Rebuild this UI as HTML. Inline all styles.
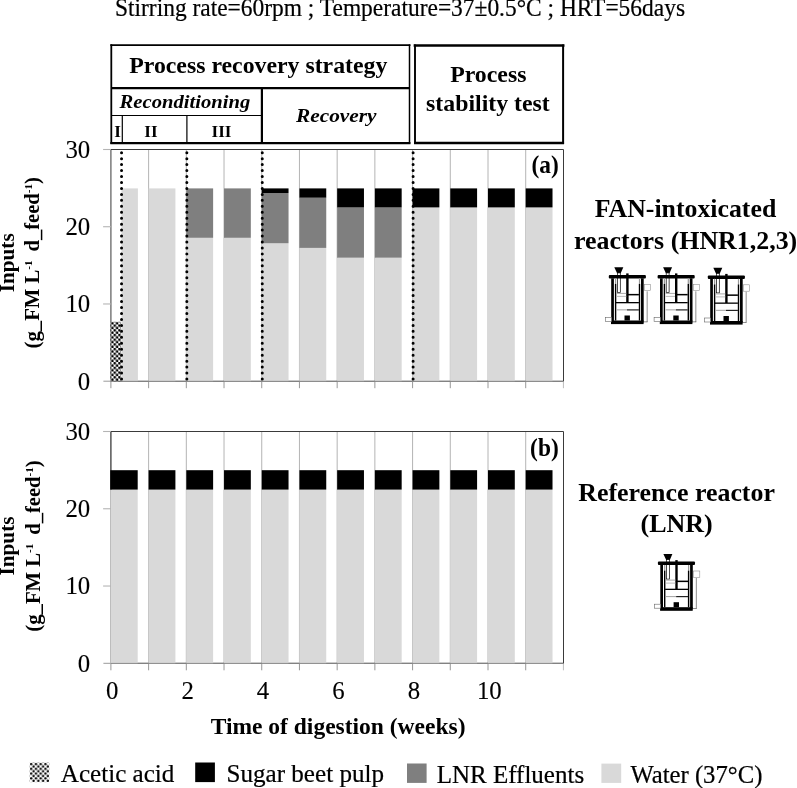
<!DOCTYPE html>
<html><head><meta charset="utf-8"><title>Figure</title>
<style>
html,body{margin:0;padding:0;background:#fff;}
body{width:797px;height:788px;overflow:hidden;}
svg{display:block;}
text{font-family:"Liberation Serif",serif;fill:#000;}
.b{font-weight:bold;}
.r{stroke:#000;stroke-width:0.22px;}
.d{stroke:#000;stroke-width:0.12px;}
.i{font-style:italic;font-weight:bold;}
</style></head><body>
<svg width="797" height="788" viewBox="0 0 797 788">
<defs>
<pattern id="chk" x="108.85" y="380.84999999999997" width="4.7" height="4.7" patternUnits="userSpaceOnUse">
<rect width="4.7" height="4.7" fill="#fff"/>
<circle cx="1.2" cy="1.2" r="1.35" fill="#000"/>
<circle cx="3.55" cy="3.55" r="1.35" fill="#000"/>
</pattern>
<pattern id="chk2" x="29.94" y="762.85" width="4.78" height="4.78" patternUnits="userSpaceOnUse">
<rect width="4.78" height="4.78" fill="#fff"/>
<circle cx="1.2" cy="1.2" r="1.2" fill="#000"/>
<circle cx="3.59" cy="3.59" r="1.2" fill="#000"/>
</pattern>
<g id="reactor">
<polygon points="9.3,0 18.3,0 15.7,5.9 12.1,5.9" fill="#000"/>
<rect x="12.4" y="5.6" width="2.9" height="19.5" fill="#fff" stroke="#000" stroke-width="0.7"/>
<rect x="3.8" y="7.6" width="37.1" height="3.5" rx="1" fill="#000"/>
<rect x="6.2" y="11" width="2.7" height="44.3" fill="#000"/>
<rect x="10" y="11" width="1.2" height="5.6" fill="#999"/>
<rect x="9.9" y="16.6" width="1.4" height="36.6" fill="#000"/>
<rect x="36.0" y="11" width="2.7" height="44.3" fill="#000"/>
<rect x="33.9" y="11" width="1.2" height="5.6" fill="#999"/>
<rect x="33.8" y="16.6" width="1.4" height="36.6" fill="#000"/>
<rect x="21.2" y="6.1" width="2.4" height="29.1" fill="#000"/>
<rect x="22.5" y="26.6" width="11.4" height="1.5" fill="#000"/>
<rect x="11" y="34.7" width="22.9" height="1.3" fill="#000"/>
<rect x="22" y="42" width="11.9" height="1.2" fill="#222"/>
<rect x="11.8" y="42" width="10.2" height="1.1" fill="#aaa"/>
<rect x="11.8" y="25.6" width="9.4" height="1" fill="#aaa"/>
<rect x="11.8" y="28.6" width="9.4" height="1" fill="#bbb"/>
<rect x="6" y="53.2" width="32.6" height="3.6" fill="#000"/>
<rect x="19.5" y="48.2" width="5.4" height="5" fill="#000"/>
<rect x="39.6" y="17" width="6.1" height="6.4" fill="#fff" stroke="#8a8a8a" stroke-width="0.55"/>
<rect x="41.8" y="24" width="0.6" height="30.8" fill="#444"/>
<rect x="38.6" y="54.3" width="3.8" height="0.6" fill="#444"/>
<rect x="0.3" y="50.2" width="6.2" height="4" fill="#fff" stroke="#666" stroke-width="0.6"/>
</g>
</defs>
<rect width="797" height="788" fill="#fff"/>

<text class="r" x="115.0" y="16.25" font-size="25.2" textLength="570" lengthAdjust="spacingAndGlyphs">Stirring rate=60rpm ; Temperature=37±0.5°C ; HRT=56days</text>
<line x1="148.61" y1="149.5" x2="148.61" y2="381.2" stroke="#b4b4b4" stroke-width="1"/>
<line x1="186.32" y1="149.5" x2="186.32" y2="381.2" stroke="#b4b4b4" stroke-width="1"/>
<line x1="224.03" y1="149.5" x2="224.03" y2="381.2" stroke="#b4b4b4" stroke-width="1"/>
<line x1="261.74" y1="149.5" x2="261.74" y2="381.2" stroke="#b4b4b4" stroke-width="1"/>
<line x1="299.45" y1="149.5" x2="299.45" y2="381.2" stroke="#b4b4b4" stroke-width="1"/>
<line x1="337.16" y1="149.5" x2="337.16" y2="381.2" stroke="#b4b4b4" stroke-width="1"/>
<line x1="374.87" y1="149.5" x2="374.87" y2="381.2" stroke="#b4b4b4" stroke-width="1"/>
<line x1="412.58" y1="149.5" x2="412.58" y2="381.2" stroke="#b4b4b4" stroke-width="1"/>
<line x1="450.29" y1="149.5" x2="450.29" y2="381.2" stroke="#b4b4b4" stroke-width="1"/>
<line x1="488.00" y1="149.5" x2="488.00" y2="381.2" stroke="#b4b4b4" stroke-width="1"/>
<line x1="525.71" y1="149.5" x2="525.71" y2="381.2" stroke="#b4b4b4" stroke-width="1"/>
<line x1="110.9" y1="381.2" x2="563.5" y2="381.2" stroke="#555" stroke-width="1.1"/>
<line x1="103.4" y1="381.2" x2="110.9" y2="381.2" stroke="#9a9a9a" stroke-width="1"/>
<line x1="110.9" y1="149.5" x2="110.9" y2="381.2" stroke="#666" stroke-width="1.3"/>
<line x1="110.9" y1="381.2" x2="110.9" y2="388.2" stroke="#8c8c8c" stroke-width="0.9"/>
<rect x="110.55" y="321.80" width="10.30" height="59.40" fill="url(#chk)"/>
<rect x="121.50" y="188.40" width="16.40" height="192.80" fill="#d9d9d9"/>
<rect x="148.61" y="188.40" width="26.80" height="192.80" fill="#d9d9d9"/>
<rect x="186.32" y="237.80" width="26.80" height="143.40" fill="#d9d9d9"/>
<rect x="186.32" y="188.40" width="26.80" height="49.40" fill="#7f7f7f"/>
<rect x="224.03" y="237.80" width="26.80" height="143.40" fill="#d9d9d9"/>
<rect x="224.03" y="188.40" width="26.80" height="49.40" fill="#7f7f7f"/>
<rect x="261.74" y="243.25" width="26.80" height="137.95" fill="#d9d9d9"/>
<rect x="261.74" y="193.05" width="26.80" height="50.20" fill="#7f7f7f"/>
<rect x="261.74" y="188.40" width="26.80" height="4.65" fill="#000"/>
<rect x="299.45" y="247.90" width="26.80" height="133.30" fill="#d9d9d9"/>
<rect x="299.45" y="197.70" width="26.80" height="50.20" fill="#7f7f7f"/>
<rect x="299.45" y="188.40" width="26.80" height="9.30" fill="#000"/>
<rect x="337.16" y="257.70" width="26.80" height="123.50" fill="#d9d9d9"/>
<rect x="337.16" y="207.45" width="26.80" height="50.25" fill="#7f7f7f"/>
<rect x="337.16" y="188.40" width="26.80" height="19.05" fill="#000"/>
<rect x="374.87" y="257.70" width="26.80" height="123.50" fill="#d9d9d9"/>
<rect x="374.87" y="207.45" width="26.80" height="50.25" fill="#7f7f7f"/>
<rect x="374.87" y="188.40" width="26.80" height="19.05" fill="#000"/>
<rect x="412.58" y="207.40" width="26.80" height="173.80" fill="#d9d9d9"/>
<rect x="412.58" y="188.40" width="26.80" height="19.00" fill="#000"/>
<rect x="450.29" y="207.40" width="26.80" height="173.80" fill="#d9d9d9"/>
<rect x="450.29" y="188.40" width="26.80" height="19.00" fill="#000"/>
<rect x="488.00" y="207.40" width="26.80" height="173.80" fill="#d9d9d9"/>
<rect x="488.00" y="188.40" width="26.80" height="19.00" fill="#000"/>
<rect x="525.71" y="207.40" width="26.80" height="173.80" fill="#d9d9d9"/>
<rect x="525.71" y="188.40" width="26.80" height="19.00" fill="#000"/>
<line x1="110.9" y1="381.2" x2="563.5" y2="381.2" stroke="#888" stroke-width="1" opacity="0.5"/>
<path d="M110.30000000000001 149.5 H563.5 V381.7" fill="none" stroke="#3a3a3a" stroke-width="1"/>
<line x1="103.10000000000001" y1="303.97" x2="110.9" y2="303.97" stroke="#b4b4b4" stroke-width="1.1"/>
<line x1="103.10000000000001" y1="226.73" x2="110.9" y2="226.73" stroke="#b4b4b4" stroke-width="1.1"/>
<line x1="103.10000000000001" y1="149.50" x2="110.9" y2="149.50" stroke="#b4b4b4" stroke-width="1.1"/>
<text class="d" x="90.2" y="389.60" font-size="24.8" text-anchor="end">0</text>
<text class="d" x="90.2" y="312.37" font-size="24.8" text-anchor="end">10</text>
<text class="d" x="90.2" y="235.13" font-size="24.8" text-anchor="end">20</text>
<text class="d" x="90.2" y="157.90" font-size="24.8" text-anchor="end">30</text>
<line x1="148.61" y1="381.2" x2="148.61" y2="388.2" stroke="#8c8c8c" stroke-width="0.9"/>
<line x1="186.32" y1="381.2" x2="186.32" y2="388.2" stroke="#8c8c8c" stroke-width="0.9"/>
<line x1="224.03" y1="381.2" x2="224.03" y2="388.2" stroke="#8c8c8c" stroke-width="0.9"/>
<line x1="261.74" y1="381.2" x2="261.74" y2="388.2" stroke="#8c8c8c" stroke-width="0.9"/>
<line x1="299.45" y1="381.2" x2="299.45" y2="388.2" stroke="#8c8c8c" stroke-width="0.9"/>
<line x1="337.16" y1="381.2" x2="337.16" y2="388.2" stroke="#8c8c8c" stroke-width="0.9"/>
<line x1="374.87" y1="381.2" x2="374.87" y2="388.2" stroke="#8c8c8c" stroke-width="0.9"/>
<line x1="412.58" y1="381.2" x2="412.58" y2="388.2" stroke="#8c8c8c" stroke-width="0.9"/>
<line x1="450.29" y1="381.2" x2="450.29" y2="388.2" stroke="#8c8c8c" stroke-width="0.9"/>
<line x1="488.00" y1="381.2" x2="488.00" y2="388.2" stroke="#8c8c8c" stroke-width="0.9"/>
<line x1="525.71" y1="381.2" x2="525.71" y2="388.2" stroke="#8c8c8c" stroke-width="0.9"/>
<line x1="563.42" y1="381.2" x2="563.42" y2="388.2" stroke="#b4b4b4" stroke-width="0.9"/>
<line x1="121.55" y1="152.70" x2="121.55" y2="381.2" stroke="#000" stroke-width="3" stroke-linecap="round" stroke-dasharray="0 5.955"/>
<line x1="186.84" y1="152.70" x2="186.84" y2="381.2" stroke="#000" stroke-width="3" stroke-linecap="round" stroke-dasharray="0 5.955"/>
<line x1="262.26" y1="152.70" x2="262.26" y2="381.2" stroke="#000" stroke-width="3" stroke-linecap="round" stroke-dasharray="0 5.955"/>
<line x1="413.10" y1="152.70" x2="413.10" y2="381.2" stroke="#000" stroke-width="3" stroke-linecap="round" stroke-dasharray="0 5.955"/>
<text transform="translate(558.7,172.6) scale(1,1.07)" font-size="23.4" class="b" text-anchor="end">(a)</text>
<text transform="translate(13.7,262.8) rotate(-90)" font-size="21.2" class="b" text-anchor="middle">Inputs</text>
<text transform="translate(38.9,348.40) rotate(-90)" font-size="20.7" class="b">(g_FM L<tspan font-size="11" dy="-7">-1</tspan></text>
<text transform="translate(38.9,177.20) rotate(-90)" font-size="20.6" class="b" text-anchor="end">d_feed<tspan font-size="11" dy="-7">-1</tspan><tspan dy="7">)</tspan></text>
<line x1="148.61" y1="431.5" x2="148.61" y2="663.3" stroke="#b4b4b4" stroke-width="1"/>
<line x1="186.32" y1="431.5" x2="186.32" y2="663.3" stroke="#b4b4b4" stroke-width="1"/>
<line x1="224.03" y1="431.5" x2="224.03" y2="663.3" stroke="#b4b4b4" stroke-width="1"/>
<line x1="261.74" y1="431.5" x2="261.74" y2="663.3" stroke="#b4b4b4" stroke-width="1"/>
<line x1="299.45" y1="431.5" x2="299.45" y2="663.3" stroke="#b4b4b4" stroke-width="1"/>
<line x1="337.16" y1="431.5" x2="337.16" y2="663.3" stroke="#b4b4b4" stroke-width="1"/>
<line x1="374.87" y1="431.5" x2="374.87" y2="663.3" stroke="#b4b4b4" stroke-width="1"/>
<line x1="412.58" y1="431.5" x2="412.58" y2="663.3" stroke="#b4b4b4" stroke-width="1"/>
<line x1="450.29" y1="431.5" x2="450.29" y2="663.3" stroke="#b4b4b4" stroke-width="1"/>
<line x1="488.00" y1="431.5" x2="488.00" y2="663.3" stroke="#b4b4b4" stroke-width="1"/>
<line x1="525.71" y1="431.5" x2="525.71" y2="663.3" stroke="#b4b4b4" stroke-width="1"/>
<line x1="110.9" y1="663.3" x2="563.5" y2="663.3" stroke="#555" stroke-width="1.1"/>
<line x1="103.4" y1="663.3" x2="110.9" y2="663.3" stroke="#9a9a9a" stroke-width="1"/>
<line x1="110.9" y1="431.5" x2="110.9" y2="663.3" stroke="#3a3a3a" stroke-width="1.3"/>
<line x1="110.9" y1="663.3" x2="110.9" y2="670.3" stroke="#8c8c8c" stroke-width="0.9"/>
<rect x="110.25" y="489.60" width="27.45" height="173.70" fill="#d9d9d9"/>
<rect x="110.25" y="470.20" width="27.45" height="19.40" fill="#000"/>
<rect x="148.61" y="489.60" width="26.80" height="173.70" fill="#d9d9d9"/>
<rect x="148.61" y="470.20" width="26.80" height="19.40" fill="#000"/>
<rect x="186.32" y="489.60" width="26.80" height="173.70" fill="#d9d9d9"/>
<rect x="186.32" y="470.20" width="26.80" height="19.40" fill="#000"/>
<rect x="224.03" y="489.60" width="26.80" height="173.70" fill="#d9d9d9"/>
<rect x="224.03" y="470.20" width="26.80" height="19.40" fill="#000"/>
<rect x="261.74" y="489.60" width="26.80" height="173.70" fill="#d9d9d9"/>
<rect x="261.74" y="470.20" width="26.80" height="19.40" fill="#000"/>
<rect x="299.45" y="489.60" width="26.80" height="173.70" fill="#d9d9d9"/>
<rect x="299.45" y="470.20" width="26.80" height="19.40" fill="#000"/>
<rect x="337.16" y="489.60" width="26.80" height="173.70" fill="#d9d9d9"/>
<rect x="337.16" y="470.20" width="26.80" height="19.40" fill="#000"/>
<rect x="374.87" y="489.60" width="26.80" height="173.70" fill="#d9d9d9"/>
<rect x="374.87" y="470.20" width="26.80" height="19.40" fill="#000"/>
<rect x="412.58" y="489.60" width="26.80" height="173.70" fill="#d9d9d9"/>
<rect x="412.58" y="470.20" width="26.80" height="19.40" fill="#000"/>
<rect x="450.29" y="489.60" width="26.80" height="173.70" fill="#d9d9d9"/>
<rect x="450.29" y="470.20" width="26.80" height="19.40" fill="#000"/>
<rect x="488.00" y="489.60" width="26.80" height="173.70" fill="#d9d9d9"/>
<rect x="488.00" y="470.20" width="26.80" height="19.40" fill="#000"/>
<rect x="525.71" y="489.60" width="26.80" height="173.70" fill="#d9d9d9"/>
<rect x="525.71" y="470.20" width="26.80" height="19.40" fill="#000"/>
<line x1="110.9" y1="663.3" x2="563.5" y2="663.3" stroke="#888" stroke-width="1" opacity="0.5"/>
<path d="M110.30000000000001 431.5 H563.5 V663.8" fill="none" stroke="#3a3a3a" stroke-width="1"/>
<line x1="103.10000000000001" y1="586.03" x2="110.9" y2="586.03" stroke="#b4b4b4" stroke-width="1.1"/>
<line x1="103.10000000000001" y1="508.77" x2="110.9" y2="508.77" stroke="#b4b4b4" stroke-width="1.1"/>
<line x1="103.10000000000001" y1="431.50" x2="110.9" y2="431.50" stroke="#b4b4b4" stroke-width="1.1"/>
<text class="d" x="90.2" y="671.70" font-size="24.8" text-anchor="end">0</text>
<text class="d" x="90.2" y="594.43" font-size="24.8" text-anchor="end">10</text>
<text class="d" x="90.2" y="517.17" font-size="24.8" text-anchor="end">20</text>
<text class="d" x="90.2" y="439.90" font-size="24.8" text-anchor="end">30</text>
<line x1="148.61" y1="663.3" x2="148.61" y2="670.3" stroke="#8c8c8c" stroke-width="0.9"/>
<line x1="186.32" y1="663.3" x2="186.32" y2="670.3" stroke="#8c8c8c" stroke-width="0.9"/>
<line x1="224.03" y1="663.3" x2="224.03" y2="670.3" stroke="#8c8c8c" stroke-width="0.9"/>
<line x1="261.74" y1="663.3" x2="261.74" y2="670.3" stroke="#8c8c8c" stroke-width="0.9"/>
<line x1="299.45" y1="663.3" x2="299.45" y2="670.3" stroke="#8c8c8c" stroke-width="0.9"/>
<line x1="337.16" y1="663.3" x2="337.16" y2="670.3" stroke="#8c8c8c" stroke-width="0.9"/>
<line x1="374.87" y1="663.3" x2="374.87" y2="670.3" stroke="#8c8c8c" stroke-width="0.9"/>
<line x1="412.58" y1="663.3" x2="412.58" y2="670.3" stroke="#8c8c8c" stroke-width="0.9"/>
<line x1="450.29" y1="663.3" x2="450.29" y2="670.3" stroke="#8c8c8c" stroke-width="0.9"/>
<line x1="488.00" y1="663.3" x2="488.00" y2="670.3" stroke="#8c8c8c" stroke-width="0.9"/>
<line x1="525.71" y1="663.3" x2="525.71" y2="670.3" stroke="#8c8c8c" stroke-width="0.9"/>
<line x1="563.42" y1="663.3" x2="563.42" y2="670.3" stroke="#b4b4b4" stroke-width="0.9"/>
<text transform="translate(558.7,455.9) scale(1,1.07)" font-size="23.4" class="b" text-anchor="end">(b)</text>
<text transform="translate(14.2,546.0) rotate(-90)" font-size="21.2" class="b" text-anchor="middle">Inputs</text>
<text transform="translate(39.9,631.65) rotate(-90)" font-size="20.7" class="b">(g_FM L<tspan font-size="11" dy="-7">-1</tspan></text>
<text transform="translate(39.9,460.45) rotate(-90)" font-size="20.6" class="b" text-anchor="end">d_feed<tspan font-size="11" dy="-7">-1</tspan><tspan dy="7">)</tspan></text>
<text x="112.20" y="698.65" class="d" font-size="24.8" text-anchor="middle">0</text>
<text x="187.62" y="698.65" class="d" font-size="24.8" text-anchor="middle">2</text>
<text x="263.04" y="698.65" class="d" font-size="24.8" text-anchor="middle">4</text>
<text x="338.46" y="698.65" class="d" font-size="24.8" text-anchor="middle">6</text>
<text x="413.88" y="698.65" class="d" font-size="24.8" text-anchor="middle">8</text>
<text x="489.30" y="698.65" class="d" font-size="24.8" text-anchor="middle">10</text>
<text x="338.1" y="733.9" font-size="23.5" class="b" text-anchor="middle">Time of digestion (weeks)</text>
<g fill="none" stroke="#000">
<g stroke-linecap="square">
<line x1="111.3" y1="45.15" x2="409.5" y2="45.15" stroke-width="1.9"/>
<line x1="111.3" y1="45.15" x2="111.3" y2="143.1" stroke-width="1.8"/>
<line x1="409.5" y1="45.15" x2="409.5" y2="143.1" stroke-width="1.5"/>
<line x1="111.5" y1="143.1" x2="409.3" y2="143.1" stroke-width="2.3"/>
<line x1="415.0" y1="45.5" x2="563.1" y2="45.5" stroke-width="2.7"/>
<line x1="415.0" y1="45.5" x2="415.0" y2="143.0" stroke-width="1.9"/>
<line x1="563.1" y1="45.5" x2="563.1" y2="143.0" stroke-width="2.0"/>
<line x1="415.2" y1="143.0" x2="562.9" y2="143.0" stroke-width="2.3"/>
</g>
<line x1="111.6" y1="88.2" x2="409.4" y2="88.2" stroke-width="2.2"/>
<line x1="261.9" y1="88.2" x2="261.9" y2="143.2" stroke-width="2.2"/>
<line x1="111.6" y1="115.5" x2="261.9" y2="115.5" stroke-width="1.2"/>
<line x1="122.3" y1="115.5" x2="122.3" y2="143.2" stroke-width="1.2"/>
<line x1="186.9" y1="115.5" x2="186.9" y2="143.2" stroke-width="1.2"/>
</g>
<text x="258.3" y="72.9" font-size="23.8" class="b" text-anchor="middle">Process recovery strategy</text>
<text x="184.9" y="107.5" font-size="19.8" class="i" text-anchor="middle" textLength="130.6" lengthAdjust="spacingAndGlyphs">Reconditioning</text>
<text x="336.3" y="122.1" font-size="19.8" class="i" text-anchor="middle" textLength="80.5" lengthAdjust="spacingAndGlyphs">Recovery</text>
<text x="117.5" y="136.9" font-size="17.1" class="b" text-anchor="middle">I</text>
<text x="151" y="136.9" font-size="17.1" class="b" text-anchor="middle">II</text>
<text x="221.5" y="136.9" font-size="17.1" class="b" text-anchor="middle">III</text>
<text x="488.3" y="81.9" font-size="23.8" class="b" text-anchor="middle">Process</text>
<text x="487.9" y="110.8" font-size="23.8" class="b" text-anchor="middle">stability test</text>
<text x="685.5" y="216.8" font-size="25.8" class="b" text-anchor="middle">FAN-intoxicated</text>
<text x="574.1" y="248.8" font-size="25.9" class="b">reactors (HNR1,2,3)</text>
<text x="676.6" y="500.9" font-size="25.9" class="b" text-anchor="middle">Reference reactor</text>
<text x="676.6" y="532.3" font-size="26" class="b" text-anchor="middle">(LNR)</text>
<use href="#reactor" x="605.0" y="267.3"/>
<use href="#reactor" x="653.8" y="267.3"/>
<use href="#reactor" x="704.0" y="267.8"/>
<use href="#reactor" x="654.1" y="554"/>
<rect x="29.8" y="762.7" width="19.4" height="19.4" fill="url(#chk2)"/>
<text class="r" x="60.8" y="782.4" font-size="25.1">Acetic acid</text>
<rect x="195.2" y="762.5" width="19.7" height="19.6" fill="#000"/>
<text class="r" x="226.5" y="782.0" font-size="25.1">Sugar beet pulp</text>
<rect x="407.0" y="763.5" width="19.6" height="19.4" fill="#7f7f7f"/>
<text class="r" x="436.7" y="782.5" font-size="25">LNR Effluents</text>
<rect x="601.4" y="763.6" width="19.8" height="19.3" fill="#d9d9d9"/>
<text class="r" x="630.4" y="782.5" font-size="24.7">Water (37°C)</text>
</svg></body></html>
